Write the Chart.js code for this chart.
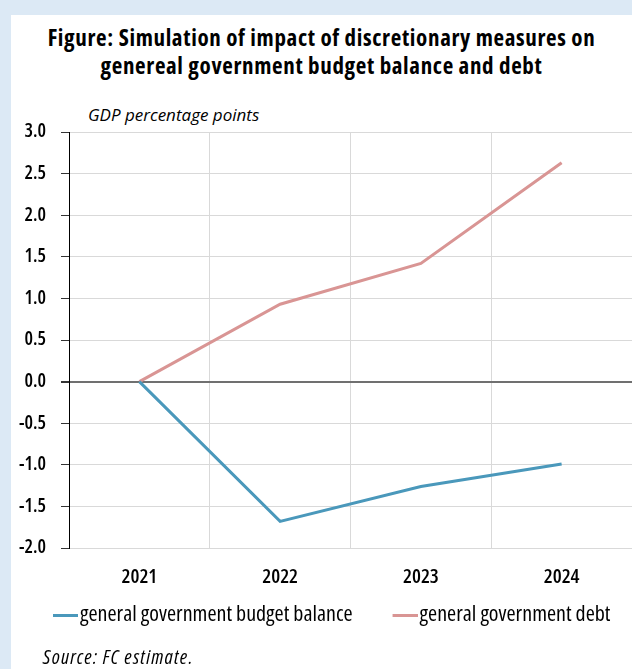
<!DOCTYPE html>
<html>
<head>
<meta charset="utf-8">
<script src="https://cdn.jsdelivr.net/npm/chart.js@4.4.1/dist/chart.umd.min.js"></script>
<style>
  html, body { margin: 0; padding: 0; }
  body {
    width: 632px; height: 669px; position: relative; overflow: hidden;
    background: #dce9f5;
    font-family: 'Open Sans', sans-serif;
    font-stretch: 75%;
    color: #000;
  }
  #panel { position: absolute; left: 11px; top: 15px; right: 0; bottom: 0; background: #fff; }
  #title {
    position: absolute; left: 11px; width: 621px; top: 23px;
    text-align: center; font-weight: 700; font-size: 23px; letter-spacing: 0.65px;
    line-height: 28px; white-space: nowrap;
  }
  #unit {
    position: absolute; left: 88px; top: 105px;
    font-style: italic; font-size: 17px; font-stretch: 100%; line-height: 20px; white-space: nowrap;
  }
  #source {
    position: absolute; left: 43px; top: 646px;
    font-style: italic; font-size: 20px; letter-spacing: 1.2px; line-height: 22px; white-space: nowrap;
  }
  #chart { position: absolute; left: 0; top: 0; }
</style>
</head>
<body>
<div id="panel"></div>
<div id="title">Figure: Simulation of impact of discretionary measures on<br>genereal government budget balance and debt</div>
<div id="unit">GDP percentage points</div>
<canvas id="chart" width="632" height="669"></canvas>
<div id="source">Source: FC estimate.</div>
<script>
// Years on the horizontal axis
const years = ['2021', '2022', '2023', '2024'];

// Impact of discretionary measures, GDP percentage points
const budgetBalance = [0, -1.68, -1.26, -0.99];
const governmentDebt = [0, 0.93, 1.42, 2.63];

// Series names shown in the legend
const seriesNames = ['general government budget balance', 'general government debt'];

// Vertical axis range and step
const yMin = -2, yMax = 3, yStep = 0.5;

const FONT = "'Open Sans', sans-serif";
const TICK_WEIGHT = '600';
const LEGEND_WEIGHT = '500';
const BLUE = '#4a98bb';
const PINK = '#d99594';
const LEGEND_SIZE = 22;

// Every font set on this context is drawn in its condensed width
const canvas = document.getElementById('chart');
const ctx2d = canvas.getContext('2d');
const fontProp = Object.getOwnPropertyDescriptor(CanvasRenderingContext2D.prototype, 'font');
Object.defineProperty(ctx2d, 'font', {
  configurable: true,
  get() { return fontProp.get.call(this); },
  set(v) { fontProp.set.call(this, v); this.fontStretch = 'condensed'; }
});

// Legend geometry: entry padding, and how far the swatch line sits
// to the right of each entry's start so the second entry lands at x = 392
ctx2d.font = LEGEND_WEIGHT + ' ' + LEGEND_SIZE + 'px ' + FONT;
const firstLabelWidth = ctx2d.measureText(seriesNames[0]).width;
const legendPad = 8;
const shift = Math.max(26, 2 * Math.round((392 - 80 - firstLabelWidth - legendPad) / 2));
const boxW = shift + 16;
const leftPad = 53 - shift - legendPad;

// Short horizontal line used as the legend swatch
function swatch(color) {
  const half = shift / 2 + 17;
  const c = document.createElement('canvas');
  c.width = 2 * half; c.height = 3;
  const g = c.getContext('2d');
  g.fillStyle = color;
  g.fillRect(half + shift / 2 - 8, 0, 25, 3);
  return c;
}
const swatches = [swatch(BLUE), swatch(PINK)];

Chart.defaults.font.family = FONT;
Chart.defaults.color = '#000';

new Chart(ctx2d, {
  type: 'line',
  data: {
    labels: years,
    datasets: [
      { label: seriesNames[0], data: budgetBalance, borderColor: BLUE, backgroundColor: BLUE,
        borderWidth: 3, pointRadius: 0, tension: 0 },
      { label: seriesNames[1], data: governmentDebt, borderColor: PINK, backgroundColor: PINK,
        borderWidth: 3, pointRadius: 0, tension: 0 }
    ]
  },
  options: {
    responsive: false,
    animation: false,
    layout: { padding: { top: 132, left: leftPad, right: 0, bottom: 33 } },
    plugins: {
      title: { display: false },
      tooltip: { enabled: false },
      legend: {
        position: 'bottom',
        align: 'start',
        labels: {
          font: { size: LEGEND_SIZE, weight: LEGEND_WEIGHT },
          color: '#000',
          padding: legendPad,
          usePointStyle: true,
          pointStyleWidth: boxW,
          generateLabels(chart) {
            const items = Chart.defaults.plugins.legend.labels.generateLabels(chart);
            items.forEach((it, i) => { it.pointStyle = swatches[i]; });
            return items;
          }
        }
      }
    },
    scales: {
      x: {
        offset: true,
        grid: {
          offset: true,
          drawTicks: false,
          color: ctx => (ctx.index > 0 && ctx.index < years.length) ? '#d9d9d9' : 'rgba(0,0,0,0)',
          lineWidth: 1
        },
        border: { display: true, color: '#d9d9d9' },
        ticks: { font: { size: 20, weight: TICK_WEIGHT }, padding: 17, color: '#000' },
        afterFit(scale) { scale.height = 56 - legendPad; }
      },
      y: {
        min: yMin, max: yMax,
        grid: {
          color: ctx => (ctx.tick && ctx.tick.value === 0) ? '#707070' : '#d9d9d9',
          lineWidth: ctx => (ctx.tick && ctx.tick.value === 0) ? 2 : 1,
          tickColor: '#333',
          tickLength: 8,
          drawTicks: true
        },
        border: { display: true, color: '#000', width: 1 },
        ticks: {
          stepSize: yStep,
          font: { size: 19, weight: TICK_WEIGHT },
          padding: 15,
          color: '#000',
          callback: v => Number(v).toFixed(1)
        },
        afterFit(scale) { scale.width = 69 - leftPad; }
      }
    }
  }
});
</script>
</body>
</html>
